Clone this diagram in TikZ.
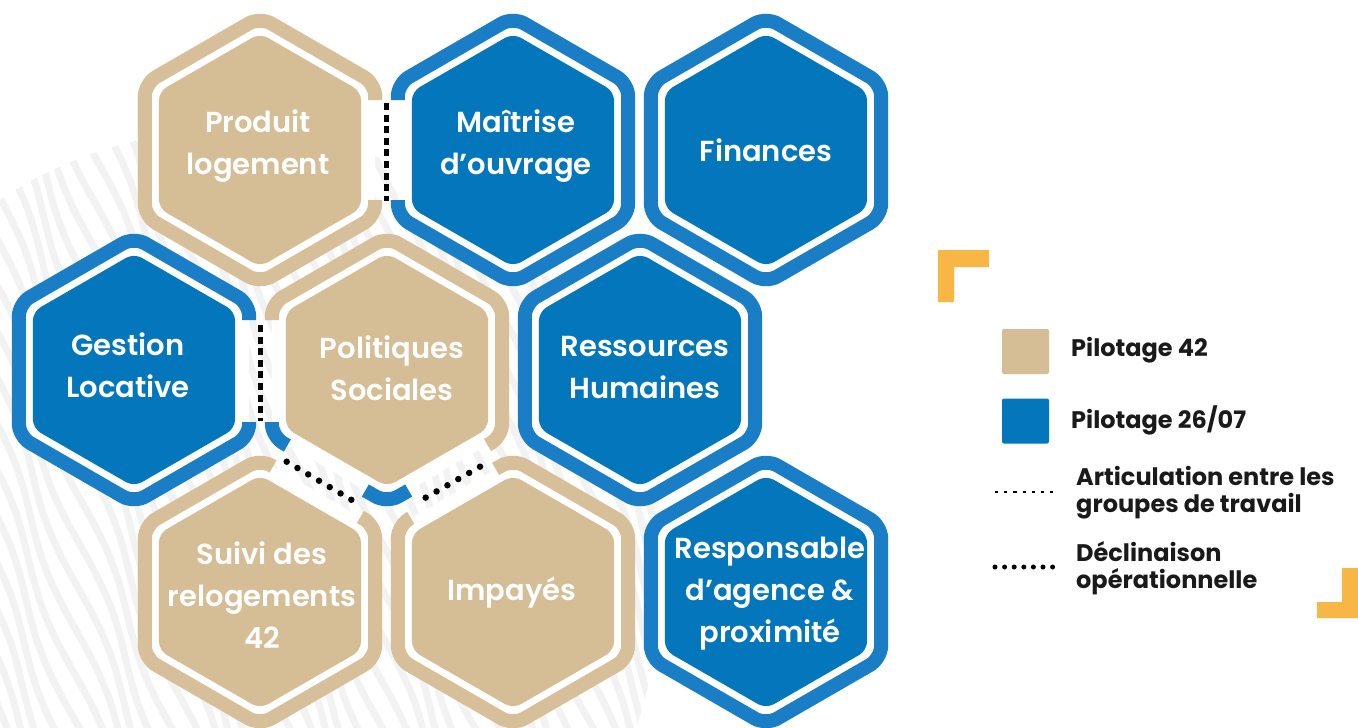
\documentclass[tikz,border=0pt]{standalone}
\usepackage{fontspec}
\setmainfont{Poppins}
\newfontfamily\semib{Poppins SemiBold}
\usetikzlibrary{calc}
\definecolor{tanF}{HTML}{D5BD96}
\definecolor{tanR}{HTML}{D7BF99}
\definecolor{bluF}{HTML}{0476BC}
\definecolor{bluR}{HTML}{197EC5}
\definecolor{gold}{HTML}{F8B744}
\definecolor{txt}{HTML}{1A1A1A}
\definecolor{texg}{HTML}{F2F2F2}

\newcommand\HexCoords[3]{%
  \coordinate (#1) at (#2,#3);
  \coordinate (#1-t) at ($(#1)+(0,-133)$);
  \coordinate (#1-ur) at ($(#1)+(115.2,-66.5)$);
  \coordinate (#1-lr) at ($(#1)+(115.2,66.5)$);
  \coordinate (#1-b) at ($(#1)+(0,133)$);
  \coordinate (#1-ll) at ($(#1)+(-115.2,66.5)$);
  \coordinate (#1-ul) at ($(#1)+(-115.2,-66.5)$);
  \coordinate (#1-r) at ($(#1)+(115.2,0)$);
  \coordinate (#1-l) at ($(#1)+(-115.2,0)$);
}
\newcommand\HexBase[2]{%
  \fill[white, rounded corners=14] (#1-r) -- (#1-lr) -- (#1-b) -- (#1-ll) -- (#1-ul) -- (#1-t) -- (#1-ur) -- cycle;
  \fill[#2, rounded corners=9] ($(#1)+(101.1,0)$) -- ($(#1)+(101.1,58.4)$) -- ($(#1)+(0,116.7)$) -- ($(#1)+(-101.1,58.4)$) -- ($(#1)+(-101.1,-58.4)$) -- ($(#1)+(0,-116.7)$) -- ($(#1)+(101.1,-58.4)$) -- cycle;
}
\newcommand\HexFullRing[2]{%
  \draw[ring, #2] (#1-r) -- (#1-lr) -- (#1-b) -- (#1-ll) -- (#1-ul) -- (#1-t) -- (#1-ur) -- cycle;
}

\begin{document}
\begin{tikzpicture}[x=1pt, y=-1pt,
  ring/.style={line width=14, rounded corners=13, line join=round},
  hextext/.style={text=white, font=\semib\fontsize{29}{42}\selectfont, align=center, inner sep=0pt},
  legtext/.style={text=txt, font=\bfseries\fontsize{24}{27}\selectfont, align=left, inner sep=0pt, anchor=west},
  legsq/.style={minimum width=47, minimum height=45, inner sep=0pt, rounded corners=2},
  vdash/.style={line width=4.5, dash pattern=on 7 off 4.6},
  rdots/.style={line width=6.5, line cap=round, dash pattern=on 0 off 12.5},
  legA/.style={line width=2.6, dash pattern=on 3.2 off 6},
  legB/.style={line width=5, line cap=round, dash pattern=on 0 off 9.6}]
\useasboundingbox (0,0) rectangle (1358,728);
\fill[white] (0,0) rectangle (1358,728);

% background texture
\begin{scope}
\clip (230,580) ellipse [x radius=430, y radius=450];
\foreach \i in {-26,...,40} {
  \draw[texg, line width=7] plot[domain=0:1, samples=24, smooth]
    ({\i*19+280*\x+6*sin(1100*\x+67*\i)}, {60+700*\x});
}
\end{scope}

% hexagon geometry
\HexCoords{prod}{260}{150}
\HexCoords{maitr}{513}{150}
\HexCoords{fin}{766}{150}
\HexCoords{gest}{134}{370}
\HexCoords{poli}{387}{370}
\HexCoords{rh}{640}{370}
\HexCoords{suivi}{260}{592}
\HexCoords{impa}{513}{592}
\HexCoords{resp}{766}{592}

\HexBase{prod}{tanF}
\HexBase{maitr}{bluF}
\HexBase{fin}{bluF}
\HexBase{gest}{bluF}
\HexBase{poli}{tanF}
\HexBase{rh}{bluF}
\HexBase{suivi}{tanF}
\HexBase{impa}{tanF}
\HexBase{resp}{bluF}

% rings
\HexFullRing{fin}{bluR}
\HexFullRing{rh}{bluR}
\HexFullRing{resp}{bluR}
\draw[ring, tanR] ($(prod-r)+(0,50)$) -- (prod-lr) -- (prod-b) -- (prod-ll) -- (prod-ul) -- (prod-t) -- (prod-ur) -- ($(prod-r)+(0,-50)$);
\draw[ring, bluR] ($(maitr-l)+(0,-50)$) -- (maitr-ul) -- (maitr-t) -- (maitr-ur) -- (maitr-lr) -- (maitr-b) -- (maitr-ll) -- ($(maitr-l)+(0,50)$);
\draw[ring, bluR] ($(gest-r)+(0,52)$) -- (gest-lr) -- (gest-b) -- (gest-ll) -- (gest-ul) -- (gest-t) -- (gest-ur) -- ($(gest-r)+(0,-50)$);
\draw[ring, tanR] ($(poli-l)+(0,-50)$) -- (poli-ul) -- (poli-t) -- (poli-ur) -- (poli-lr) -- ($(poli-lr)!17pt!(poli-b)$);
\draw[ring, bluR] ($(poli-l)+(0,52)$) -- (poli-ll) -- ($(poli-ll)!18pt!(poli-b)$);
\draw[ring, bluR] ($(poli-b)!25pt!(poli-ll)$) -- (poli-b) -- ($(poli-b)!25pt!(poli-lr)$);
\draw[ring, tanR] ($(suivi-ur)!17pt!(suivi-t)$) -- (suivi-ur) -- (suivi-lr) -- (suivi-b) -- (suivi-ll) -- (suivi-ul) -- (suivi-t) -- ($(suivi-t)!15pt!(suivi-ur)$);
\draw[ring, tanR] ($(impa-t)!20pt!(impa-ul)$) -- (impa-t) -- (impa-ur) -- (impa-lr) -- (impa-b) -- (impa-ll) -- (impa-ul) -- ($(impa-ul)!15pt!(impa-t)$);

% texts
\node[hextext] (prodT) at (258,146) {Produit\\logement};
\node[hextext] (maitrT) at (516,146) {Maîtrise\\d’ouvrage};
\node[hextext] (finT) at (766,150) {Finances};
\node[hextext] (gestT) at (128,365) {Gestion\\Locative};
\node[hextext] (poliT) at (392,368) {Politiques\\Sociales};
\node[hextext] (rhT) at (645,368) {Ressources\\Humaines};
\node[hextext] (suiviT) at (262,595) {Suivi des\\relogements\\42};
\node[hextext] (impaT) at (512,593) {Impayés};
\node[hextext] (respT) at (770,594) {Responsable\\d’agence \&\\proximité};

% dotted links
\coordinate (d1a) at (386.5,103); \coordinate (d1b) at (386.5,201);
\coordinate (d2a) at (260.5,325); \coordinate (d2b) at (260.5,421);
\coordinate (d3a) at (286.7,461.7); \coordinate (d3b) at (351.7,500);
\coordinate (d4a) at (480,466.7); \coordinate (d4b) at (415.7,503.3);
\draw[vdash] (d1a) -- (d1b);
\draw[vdash] (d2a) -- (d2b);
\draw[rdots] (d3a) -- (d3b);
\draw[rdots] (d4a) -- (d4b);

% corner brackets
\fill[gold] (938,250) -- (989,250) -- (989,267) -- (954,267) -- (954,302) -- (938,302) -- cycle;
\fill[gold] (1358,568) -- (1358,618) -- (1317,618) -- (1317,602) -- (1342,602) -- (1342,568) -- cycle;

% legend
\node[legsq, fill=tanF] (sq1) at (1025.5,351.5) {};
\node[legsq, fill=bluF] (sq2) at (1025.5,421) {};
\node[legtext] (lt1) at (1071,350) {Pilotage 42};
\node[legtext] (lt2) at (1071,420) {Pilotage 26/07};
\coordinate (la1) at (995,492); \coordinate (la2) at (1056,492);
\coordinate (lb1) at (995,567); \coordinate (lb2) at (1057,567);
\draw[legA] (la1) -- (la2);
\draw[legB] (lb1) -- (lb2);
\node[legtext] (lt3) at (1076,493) {Articulation entre les\\groupes de travail};
\node[legtext] (lt4) at (1076,568) {Déclinaison\\opérationnelle};
\end{tikzpicture}
\end{document}
